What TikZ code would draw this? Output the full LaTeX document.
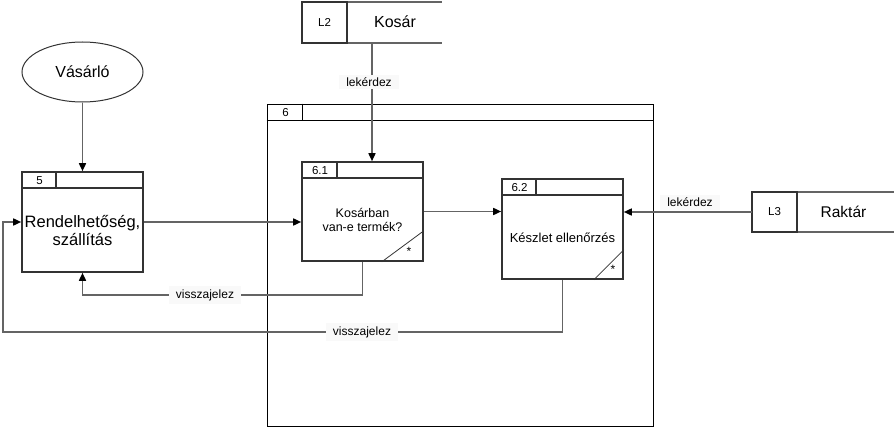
\documentclass[tikz,border=0pt]{standalone}
\usepackage{fontspec}
\setmainfont{Liberation Sans}
\usetikzlibrary{arrows.meta,shapes.geometric}
\definecolor{boxc}{HTML}{333333}
\definecolor{linec}{HTML}{646464}
\definecolor{lblc}{HTML}{F9F9F9}
\tikzset{
  proc/.style={draw=boxc, line width=1.6pt, minimum width=121pt, inner sep=0pt},
  hdr/.style={draw=boxc, line width=1.6pt},
  flow/.style={draw=linec, line width=1.6pt, -{Triangle[length=8pt,width=7pt,color=black]}},
  wire/.style={draw=linec, line width=1.6pt},
  lbl/.style={fill=lblc, inner xsep=7pt, inner ysep=3pt, font=\fontsize{12}{13}\selectfont},
  idtxt/.style={font=\fontsize{11.5}{13}\selectfont},
  star/.style={anchor=north, inner sep=0pt, font=\fontsize{12}{13}\selectfont}
}
\begin{document}
\begin{tikzpicture}[x=1pt,y=-1pt]
    \useasboundingbox (0,0) rectangle (894,428);

    \node[draw=boxc, line width=1pt, ellipse, minimum width=121pt, minimum height=60pt, inner sep=0pt,
          font=\fontsize{16}{18}\selectfont] (V) at (82.5,72) {Vásárló};

    \node[draw=black, line width=0.9pt, minimum width=386pt, minimum height=322pt] (P6) at (460,265) {};
    \draw[line width=0.9pt] ([yshift=-17pt]P6.north west) -- ([yshift=-17pt]P6.north east);
    \draw[line width=0.9pt] ([xshift=36pt]P6.north west) -- ++(0,17);
    \node[idtxt] (n6) at (285.5,112.5) {6};

    \node[proc, minimum height=100pt] (P5) at (82.5,222) {};
    \draw[hdr] ([yshift=-17pt]P5.north west) -- ([yshift=-17pt]P5.north east);
    \draw[hdr] ([xshift=35pt]P5.north west) -- ++(0,17);
    \node[idtxt] (n5) at (39.5,180.5) {5};
    \node[align=center, font=\fontsize{16.5}{17.5}\selectfont] (t5) at (82.5,230.5) {Rendelhetőség,\\szállítás};

    \node[proc, minimum height=99pt] (P61) at (362.5,211.5) {};
    \draw[hdr] ([yshift=-17pt]P61.north west) -- ([yshift=-17pt]P61.north east);
    \draw[hdr] ([xshift=36pt]P61.north west) -- ++(0,17);
    \draw[boxc, line width=0.8pt] ([xshift=-42pt]P61.south east) -- ([yshift=31pt]P61.south east);
    \node[idtxt] (n61) at (320,170.5) {6.1};
    \node[align=center, font=\fontsize{12.5}{14}\selectfont] (t61) at (362.5,220) {Kosárban\\van-e termék?};
    \node[star] (s61) at (409,247) {*};

    \node[proc, minimum height=100pt] (P62) at (562.5,229) {};
    \draw[hdr] ([yshift=-17pt]P62.north west) -- ([yshift=-17pt]P62.north east);
    \draw[hdr] ([xshift=35pt]P62.north west) -- ++(0,17);
    \draw[boxc, line width=0.8pt] ([xshift=-30pt]P62.south east) -- ([yshift=30pt]P62.south east);
    \node[idtxt] (n62) at (519.5,187.5) {6.2};
    \node[font=\fontsize{13}{15}\selectfont] (t62) at (562.5,238) {Készlet ellenőrzés};
    \node[star] (s62) at (613,265) {*};

    \node[minimum width=140pt, minimum height=41pt, inner sep=0pt] (L2) at (372,22.5) {};
    \draw[wire] (L2.north west) -- (L2.north east);
    \draw[wire] (L2.south west) -- (L2.south east);
    \draw[hdr] (L2.north west) rectangle ([xshift=45pt]L2.south west);
    \node[idtxt] (L2id) at (324.5,22.5) {L2};
    \node[font=\fontsize{16}{18}\selectfont] (L2n) at (395,22) {Kosár};

    \node[minimum width=142pt, minimum height=40pt, inner sep=0pt] (L3) at (823,212) {};
    \draw[wire] (L3.north west) -- (L3.north east);
    \draw[wire] (L3.south west) -- (L3.south east);
    \draw[hdr] (L3.north west) rectangle ([xshift=45pt]L3.south west);
    \node[idtxt] (L3id) at (774.5,212) {L3};
    \node[font=\fontsize{15.5}{18}\selectfont] (L3n) at (843.5,211.5) {Raktár};

    \draw[flow] (V) -- (P5);
    \draw[flow] (P5.east) -- (P5.east -| P61.west);
    \draw[flow] (P61.east) -- (P61.east -| P62.west);
    \draw[flow] (L2.south) -- (L2.south |- P61.north);
    \draw[flow] (L3.west) -- (L3.west -| P62.east);
    \draw[flow] (P61.south) -- (362.5,295) -| (P5.south);
    \draw[flow] (P62.south) |- (3,332) |- (P5.west);

    \node[lbl] (q1) at (369,82) {lekérdez};
    \node[lbl] (q2) at (690,202.5) {lekérdez};
    \node[lbl] (f1) at (205,295) {visszajelez};
    \node[lbl] (f2) at (362,332) {visszajelez};
\end{tikzpicture}
\end{document}
